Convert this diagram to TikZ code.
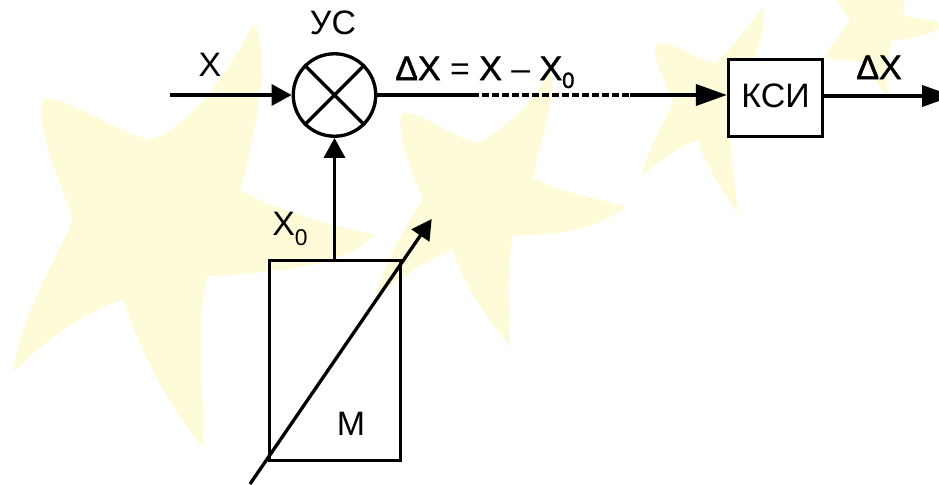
\documentclass[tikz,border=0pt]{standalone}
\usepackage{fontspec}
\setmainfont{Liberation Sans}
\newfontfamily\boldeq[FakeBold=1.5]{Liberation Sans}
\usepackage{xcolor}
\usepackage{tikz}
\usetikzlibrary{arrows.meta, positioning, calc}
\definecolor{mystar}{RGB}{254,251,216}
\tikzset{
  block/.style={rectangle, draw=black, line width=1.9pt, inner sep=0pt, font=\fontsize{19.3}{22}\selectfont},
  sumnode/.style={circle, draw=black, fill=white, line width=1.9pt, minimum size=1.65cm, inner sep=0pt},
  arrow/.style={-{Triangle[length=17.6pt, width=12pt]}, line width=1.9pt, color=black},
  smallarrow/.style={-{Triangle[length=11.4pt, width=12pt]}, line width=1.9pt, color=black},
  line/.style={line width=1.9pt, color=black},
  label/.style={font=\fontsize{19.3}{22}\selectfont, inner sep=0pt},
  star/.style={fill=mystar, draw=none}
}
\begin{document}
\begin{tikzpicture}[x=0.02cm, y=-0.02cm]
  \useasboundingbox (0,0) rectangle (939,484);
  % background stars
  \fill[star] (254,23) .. controls (268,50) and (262,110) .. (240,190) .. controls (280,212) and (330,225) .. (375,235)
    .. controls (340,272) and (250,272) .. (207,277) .. controls (195,330) and (205,400) .. (203,447)
    .. controls (170,410) and (140,350) .. (123,300) .. controls (85,310) and (40,345) .. (13,372)
    .. controls (20,320) and (50,270) .. (73,220) .. controls (60,180) and (35,130) .. (43,100)
    .. controls (60,92) and (110,130) .. (150,140) .. controls (195,125) and (235,60) .. (254,23) -- cycle;
  \fill[star] (551,70) .. controls (555,105) and (540,140) .. (533,178) .. controls (565,195) and (600,198) .. (625,207)
    .. controls (590,235) and (545,235) .. (513,235) .. controls (505,280) and (510,320) .. (510,347)
    .. controls (490,320) and (465,290) .. (453,250) .. controls (425,258) and (395,285) .. (375,295)
    .. controls (385,265) and (405,225) .. (423,200) .. controls (412,170) and (395,135) .. (402,113)
    .. controls (420,110) and (445,135) .. (477,143) .. controls (505,130) and (535,100) .. (551,70) -- cycle;
  \fill[star] (762,7) .. controls (770,25) and (752,60) .. (746,85) .. controls (760,90) and (780,95) .. (795,100)
    .. controls (775,120) and (750,125) .. (730,128) .. controls (730,160) and (737,190) .. (737,213)
    .. controls (722,190) and (705,165) .. (698,140) .. controls (680,145) and (655,165) .. (643,175)
    .. controls (645,150) and (665,125) .. (673,100) .. controls (665,80) and (650,55) .. (657,43)
    .. controls (670,40) and (695,60) .. (715,63) .. controls (730,50) and (750,25) .. (762,7) -- cycle;
  \fill[star] (837,0) -- (905,0) .. controls (903,6) and (903,12) .. (904,16) .. controls (915,18) and (930,20) .. (939,23)
    -- (939,29) .. controls (920,38) and (905,40) .. (892,40) .. controls (886,60) and (885,85) .. (890,103)
    .. controls (878,85) and (872,75) .. (866,62) .. controls (850,60) and (838,60) .. (825,57)
    .. controls (830,45) and (845,30) .. (850,20) -- cycle;
  % blocks
  \node[sumnode] (us) at (334.5,95) {};
  \draw[line] (us.45) -- (us.225) (us.135) -- (us.315);
  \node[block, minimum width=2.62cm, minimum height=4cm] (mod) at (335,360.5) {};
  \node[block, fill=white, minimum width=1.88cm, minimum height=1.54cm, text depth=2.3pt] (ksi) at (775.5,98) {КСИ};
  % free ends
  \coordinate (xin) at (170,95);
  \coordinate (dashstart) at (472,95);
  \coordinate (dashend) at (630,95);
  \coordinate (xout) at (953,96);
  \coordinate (tunea) at (250,484);
  \coordinate (tuneb) at (431.7,219);
  % connectors
  \draw[smallarrow] (xin) -- (us);
  \draw[line] (us) -- (dashstart);
  \draw[line, dash pattern=on 3.8pt off 1.9pt] (dashstart) -- (dashend);
  \draw[arrow] (dashend) -- (dashend -| ksi.west);
  \draw[arrow] (ksi.east |- xout) -- (xout);
  \draw[smallarrow] (mod.north -| us) -- (us);
  \draw[smallarrow] (tunea) -- (tuneb);
  % labels
  \node[label, anchor=base] (lx) at (210,76) {X};
  \node[label, anchor=base] (lus) at (333,34) {УС};
  \node[label, anchor=base west] (leq) at (395,80) {{\boldeq ΔX} = {\boldeq X} – {\boldeq X\raisebox{-4.5pt}{\fontsize{12.5}{14}\boldeq\selectfont 0}}};
  \node[label, anchor=base] (ldx) at (879,79) {\boldeq ΔX};
  \node[label, anchor=base west] (lx0) at (272,235) {X\raisebox{-6.2pt}{\fontsize{13}{14}\selectfont 0}};
  \node[label, anchor=base] (lm) at (351,435) {М};
\end{tikzpicture}
\end{document}
